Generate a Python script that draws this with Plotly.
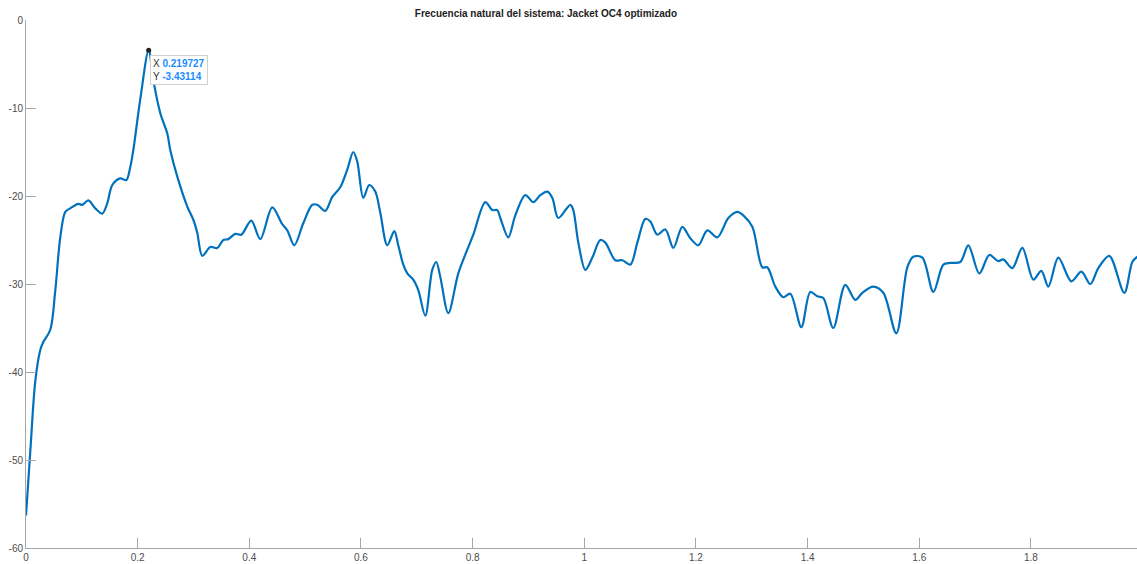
import plotly.graph_objects as go

freq = [0.0, 0.0077, 0.0167, 0.0256, 0.0310, 0.0435, 0.0525, 0.0614, 0.0704, 0.0793,
        0.0937, 0.1008, 0.1116, 0.1241, 0.1367, 0.1456, 0.1546, 0.1689, 0.1796, 0.1868,
        0.1922, 0.2047, 0.219727, 0.2280, 0.2406, 0.2531, 0.2585, 0.2710, 0.2889, 0.2997,
        0.3068, 0.3158, 0.3301, 0.3426, 0.3534, 0.3623, 0.3749, 0.3856, 0.4035, 0.4196,
        0.4411, 0.4590, 0.4680, 0.4805, 0.4966, 0.5128, 0.5217, 0.5360, 0.5486, 0.5629,
        0.5754, 0.5862, 0.5934, 0.6041, 0.6149, 0.6256, 0.6346, 0.6471, 0.6597, 0.6668,
        0.6758, 0.6830, 0.6937, 0.7027, 0.7152, 0.7277, 0.7349, 0.7421, 0.7564, 0.7743,
        0.7904, 0.8012, 0.8227, 0.8352, 0.8442, 0.8496, 0.8639, 0.8764, 0.8944, 0.9087,
        0.9212, 0.9338, 0.9427, 0.9535, 0.9750, 0.9803, 0.9893, 1.0019, 1.0144, 1.0287,
        1.0377, 1.0556, 1.0681, 1.0825, 1.0950, 1.1093, 1.1183, 1.1308, 1.1452, 1.1595,
        1.1756, 1.1899, 1.2042, 1.2204, 1.2383, 1.2580, 1.2741, 1.2848, 1.3010, 1.3189,
        1.3278, 1.3422, 1.3565, 1.3690, 1.3887, 1.4048, 1.4174, 1.4281, 1.4460, 1.4675,
        1.4854, 1.4980, 1.5177, 1.5356, 1.5589, 1.5786, 1.5893, 1.6055, 1.6252, 1.6431,
        1.6556, 1.6735, 1.6879, 1.7076, 1.7255, 1.7416, 1.7505, 1.7667, 1.7846, 1.8043,
        1.8186, 1.8312, 1.8491, 1.8724, 1.8903, 1.9064, 1.9207, 1.9404, 1.9673, 1.9816,
        1.9906]

magnitude = [-56.3, -49.0, -41.0, -37.5, -36.6, -35.2, -30.7, -24.7, -21.8, -21.4,
             -20.9, -21.0, -20.5, -21.4, -22.0, -20.8, -18.75, -18.0, -18.2, -16.7,
             -14.8, -9.0, -3.43114, -6.8, -10.6, -12.9, -14.8, -17.8, -21.2, -22.7,
             -24.2, -26.8, -25.8, -25.9, -25.0, -24.9, -24.3, -24.4, -22.8, -24.9,
             -21.3, -23.2, -23.9, -25.6, -23.1, -21.0, -21.0, -21.7, -20.1, -19.0,
             -17.0, -15.0, -16.1, -20.2, -18.75, -19.5, -21.9, -25.6, -24.0, -25.6,
             -27.8, -28.8, -29.5, -30.7, -33.6, -28.4, -27.5, -29.2, -33.3, -28.8,
             -26.1, -24.4, -20.7, -21.6, -21.6, -22.5, -24.7, -22.2, -19.9, -20.7,
             -19.9, -19.5, -20.2, -22.5, -21.0, -21.6, -25.3, -28.4, -27.0, -25.0,
             -25.3, -27.3, -27.3, -27.8, -25.3, -22.6, -22.9, -24.4, -23.8, -25.9,
             -23.5, -24.8, -25.6, -23.9, -24.7, -22.5, -21.8, -22.2, -23.5, -28.1,
             -28.1, -30.3, -31.5, -31.1, -34.9, -30.9, -31.4, -31.6, -35.0, -30.1,
             -31.8, -31.0, -30.3, -31.0, -35.6, -28.1, -26.9, -27.0, -30.9, -27.8,
             -27.6, -27.5, -25.6, -28.8, -26.7, -27.4, -27.2, -28.2, -25.9, -29.5,
             -28.5, -30.3, -27.0, -29.7, -28.6, -30.0, -28.2, -26.8, -31.0, -27.5,
             -26.9]

x_ticks = [0, 0.2, 0.4, 0.6, 0.8, 1, 1.2, 1.4, 1.6, 1.8]
x_tick_labels = ["0", "0.2", "0.4", "0.6", "0.8", "1", "1.2", "1.4", "1.6", "1.8"]
y_ticks = [0, -10, -20, -30, -40, -50, -60]
y_tick_labels = ["0", "-10", "-20", "-30", "-40", "-50", "-60"]

peak_x = 0.219727
peak_y = -3.43114

fig = go.Figure()
fig.add_trace(go.Scatter(x=freq, y=magnitude, mode="lines",
                         line=dict(color="#0072BD", width=2.2, shape="spline", smoothing=0.9),
                         showlegend=False))
fig.add_trace(go.Scatter(x=[peak_x], y=[peak_y], mode="markers",
                         marker=dict(color="#222222", size=5), showlegend=False))

fig.add_annotation(x=peak_x, y=peak_y, xref="x", yref="y",
                   text=("X <span style='color:#1a8cff'><b>0.219727</b></span><br>"
                         "Y <span style='color:#1a8cff'><b>-3.43114</b></span>"),
                   showarrow=False, xanchor="left", yanchor="top", align="left",
                   xshift=1, yshift=-5,
                   font=dict(family="Liberation Sans, Arial", size=10, color="#333333"),
                   bgcolor="white", bordercolor="#d0d0d0", borderwidth=1, borderpad=2)

axis_font = dict(family="Liberation Sans, Arial", size=10, color="#4d4d4d")
fig.update_layout(
    width=1137, height=564,
    margin=dict(l=26, r=0, t=20, b=16, autoexpand=False),
    plot_bgcolor="white", paper_bgcolor="white",
    title=dict(text="<b>Frecuencia natural del sistema: Jacket OC4 optimizado</b>",
               x=0.468, xref="paper", xanchor="center", y=1 - 13 / 564, yanchor="middle",
               font=dict(family="Liberation Sans, Arial", size=10, color="#222222")),
    xaxis=dict(range=[0, 1.99], tickvals=x_ticks, ticktext=x_tick_labels,
               showgrid=False, zeroline=False, showline=True, linecolor="#a6a6a6",
               linewidth=1, ticks="inside", ticklen=10, tickcolor="#a6a6a6",
               tickfont=axis_font, automargin=False),
    yaxis=dict(range=[-60, 0], tickvals=y_ticks, ticktext=y_tick_labels,
               showgrid=False, zeroline=False, showline=True, linecolor="#a6a6a6",
               linewidth=1, ticks="inside", ticklen=10, tickcolor="#a6a6a6",
               tickfont=axis_font, automargin=False),
)

fig.write_html("out.html", config={"displayModeBar": False},
               post_script="document.body.style.margin='0px';document.body.style.overflow='hidden';")
